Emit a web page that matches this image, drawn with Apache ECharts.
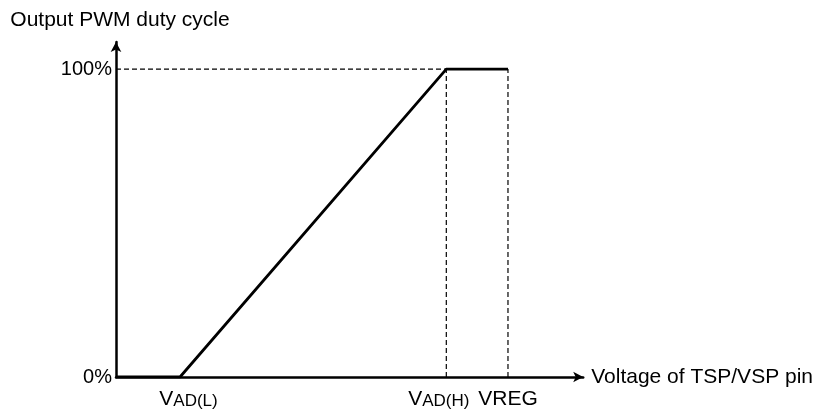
<!DOCTYPE html>
<html>
<head>
<meta charset="utf-8">
<script src="https://cdn.jsdelivr.net/npm/echarts@6/dist/echarts.min.js"></script>
<style>
  html, body { margin: 0; padding: 0; background: #fff; }
  #main { width: 816px; height: 414px; }
</style>
</head>
<body>
<div id="main"></div>
<script type="text/javascript">
// voltage points on the x axis (arbitrary units, axis runs 0..10)
var vadL = 1.37;
var vadH = 7.07;
var vreg = 8.39;

// duty cycle curve
var curveX = [0, vadL, vadH, vreg];
var curveY = [0, 0, 100, 100];

// tick labels (main text + subscript)
var xTickValues = [vadL, vadH, vreg];
var xTickMain = ['V', 'V', 'VREG'];
var xTickSub = ['AD(L)', 'AD(H)', ''];
var yTickValues = [0, 100];
var yTickLabels = ['0%', '100%'];

var font = "'Liberation Sans', Arial, sans-serif";

var chart = echarts.init(document.getElementById('main'));

function pairs(xs, ys) {
  var out = [];
  for (var i = 0; i < xs.length; i++) out.push([xs[i], ys[i]]);
  return out;
}

// the labels in the drawing are not quite centred on their ticks
var mainStyle = ['vL', 'v', 'v'];
var subStyle = ['sub', 'subR', 'sub'];

var dashStyle = { color: '#000', width: 1.2, type: [5, 3] };

var option = {
  animation: false,
  backgroundColor: '#fff',
  grid: { left: 116, right: 232, top: 42, bottom: 37 },
  xAxis: {
    type: 'value',
    min: 0,
    max: 10,
    name: 'Voltage of TSP/VSP pin',
    nameLocation: 'end',
    nameGap: 8,
    nameTextStyle: { color: '#000', fontSize: 21, fontFamily: font, verticalAlign: 'middle' },
    axisLine: { show: true, symbol: ['none', 'arrow'], symbolSize: [8, 10], lineStyle: { color: '#000', width: 2.5 } },
    axisTick: { show: false },
    splitLine: { show: false },
    axisLabel: {
      customValues: xTickValues,
      margin: 12,
      color: '#000',
      fontSize: 21,
      fontFamily: font,
      formatter: function (v) {
        var i = xTickValues.indexOf(v);
        if (i < 0) return '';
        var s = '{' + mainStyle[i] + '|' + xTickMain[i] + '}';
        if (xTickSub[i]) s += '{' + subStyle[i] + '|' + xTickSub[i] + '}';
        return s;
      },
      rich: {
        v: { fontSize: 21, fontFamily: font, color: '#000', verticalAlign: 'bottom' },
        vL: { fontSize: 21, fontFamily: font, color: '#000', verticalAlign: 'bottom', padding: [0, 0, 0, 17] },
        sub: { fontSize: 17, fontFamily: font, color: '#000', verticalAlign: 'bottom' },
        subR: { fontSize: 17, fontFamily: font, color: '#000', verticalAlign: 'bottom', padding: [0, 15, 0, 0] }
      }
    }
  },
  yAxis: {
    type: 'value',
    min: 0,
    max: 108.8,
    name: 'Output PWM duty cycle',
    nameLocation: 'end',
    nameGap: 11,
    nameTextStyle: { color: '#000', fontSize: 21, fontFamily: font, padding: [0, 0, 0, 8] },
    axisLine: { show: true, symbol: ['none', 'arrow'], symbolSize: [8, 10], lineStyle: { color: '#000', width: 2.5 } },
    axisTick: { show: false },
    splitLine: { show: false },
    axisLabel: {
      customValues: yTickValues,
      margin: 4,
      color: '#000',
      fontSize: 20,
      fontFamily: font,
      formatter: function (v) {
        var i = yTickValues.indexOf(v);
        return i >= 0 ? yTickLabels[i] : '';
      }
    }
  },
  series: [
    {
      type: 'line',
      data: pairs([0, vadH], [100, 100]),
      symbol: 'none',
      lineStyle: dashStyle,
      z: 1
    },
    {
      type: 'line',
      data: pairs([vadH, vadH], [0, 100]),
      symbol: 'none',
      lineStyle: dashStyle,
      z: 1
    },
    {
      type: 'line',
      data: pairs([vreg, vreg], [0, 100]),
      symbol: 'none',
      lineStyle: dashStyle,
      z: 1
    },
    {
      type: 'line',
      data: pairs(curveX, curveY),
      symbol: 'none',
      lineStyle: { color: '#000', width: 2.8 },
      z: 3
    }
  ]
};

chart.setOption(option);
</script>
</body>
</html>
